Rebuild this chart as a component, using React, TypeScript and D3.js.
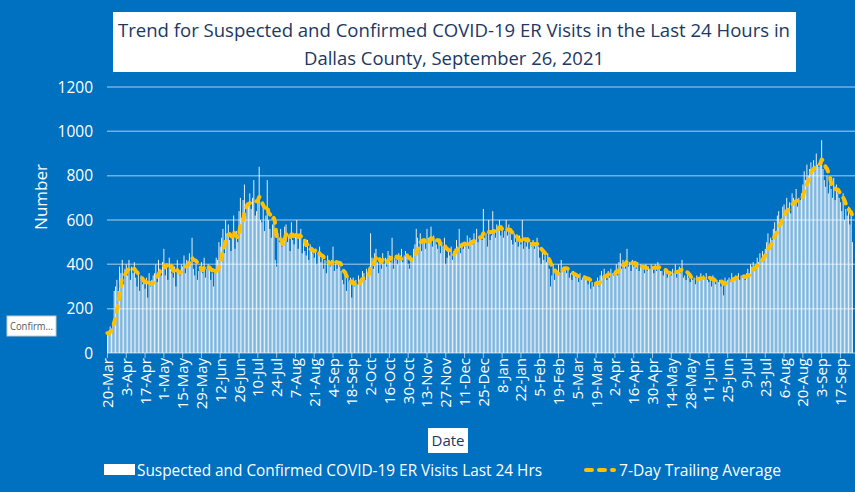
import * as d3 from "d3";

// daily ER visits, 20-Mar-2020 .. 26-Sep-2021 (one row = one week)
const visits: number[] = [
  90, 80, 120, 110, 140, 280, 300,
  330, 280, 390, 360, 420, 310, 380,
  400, 350, 420, 330, 390, 360, 410,
  340, 300, 370, 280, 350, 310, 330,
  290, 340, 250, 360, 300, 330, 350,
  360, 400, 320, 420, 380, 350, 410,
  470, 350, 400, 330, 430, 380, 360,
  340, 390, 300, 420, 370, 350, 400,
  390, 440, 360, 420, 400, 450, 410,
  520, 380, 350, 400, 330, 370, 390,
  410, 360, 430, 340, 380, 400, 390,
  330, 360, 300, 380, 430, 420, 500,
  480, 520, 560, 450, 600, 540, 580,
  510, 460, 530, 620, 470, 550, 500,
  640, 700, 610, 690, 760, 620, 650,
  680, 720, 650, 700, 780, 620, 640,
  700, 840, 600, 590, 680, 550, 620,
  780, 600, 560, 520, 580, 610, 420,
  390, 540, 500, 560, 480, 520, 570,
  580, 500, 530, 460, 590, 510, 490,
  540, 600, 470, 520, 560, 450, 500,
  460, 440, 510, 420, 490, 470, 450,
  430, 470, 400, 450, 480, 410, 440,
  380, 420, 360, 440, 400, 390, 420,
  480, 370, 410, 380, 400, 390, 370,
  330, 310, 360, 280, 350, 320, 340,
  250, 340, 300, 330, 310, 350, 320,
  340, 370, 360, 330, 380, 350, 390,
  540, 430, 380, 450, 470, 410, 360,
  420, 380, 450, 400, 430, 390, 460,
  440, 410, 520, 380, 430, 420, 400,
  450, 420, 470, 410, 440, 460, 430,
  400, 380, 440, 420, 470, 490, 560,
  520, 480, 540, 460, 510, 500, 470,
  560, 520, 500, 570, 480, 530, 510,
  490, 470, 510, 450, 500, 480, 520,
  400, 430, 470, 440, 480, 420, 460,
  470, 510, 480, 560, 450, 490, 470,
  500, 480, 530, 470, 520, 510, 490,
  540, 510, 560, 500, 530, 520, 510,
  650, 520, 540, 480, 600, 510, 530,
  640, 550, 520, 580, 560, 600, 530,
  570, 520, 550, 600, 530, 580, 540,
  510, 490, 540, 500, 520, 480, 530,
  490, 600, 470, 500, 480, 520, 470,
  500, 480, 510, 470, 490, 520, 480,
  430, 400, 460, 420, 440, 410, 450,
  380, 300, 350, 400, 330, 370, 360,
  400, 360, 420, 370, 390, 380, 360,
  380, 340, 360, 330, 370, 350, 340,
  350, 320, 360, 330, 340, 350, 330,
  330, 310, 340, 290, 320, 300, 310,
  320, 340, 300, 350, 370, 340, 380,
  350, 330, 370, 340, 380, 360, 350,
  370, 400, 350, 410, 450, 380, 420,
  400, 380, 470, 390, 410, 370, 420,
  390, 400, 380, 410, 370, 400, 390,
  380, 360, 400, 370, 390, 380, 400,
  390, 360, 400, 370, 410, 380, 370,
  370, 350, 380, 360, 340, 370, 360,
  350, 380, 360, 400, 340, 370, 390,
  360, 420, 340, 350, 330, 360, 340,
  320, 350, 330, 340, 310, 350, 330,
  340, 360, 330, 350, 340, 360, 330,
  320, 340, 300, 350, 320, 310, 330,
  320, 330, 300, 330, 260, 340, 320,
  330, 340, 320, 360, 330, 340, 350,
  340, 360, 330, 350, 340, 350, 330,
  360, 380, 350, 400, 390, 410, 380,
  400, 430, 410, 450, 420, 460, 440,
  470, 500, 540, 480, 520, 510, 560,
  590, 550, 620, 640, 580, 600, 660,
  670, 640, 700, 650, 680, 630, 720,
  700, 680, 740, 660, 700, 690, 720,
  760, 820, 780, 850, 800, 830, 860,
  820, 870, 830, 900, 850, 840, 860,
  960, 830, 780, 750, 800, 720, 760,
  740, 700, 790, 690, 760, 720, 700,
  680, 640, 720, 600, 650, 620, 660,
  580, 620, 500,
];

const tickLabels = [
  "20-Mar", "3-Apr", "17-Apr", "1-May", "15-May", "29-May", "12-Jun", "26-Jun",
  "10-Jul", "24-Jul", "7-Aug", "21-Aug", "4-Sep", "18-Sep", "2-Oct", "16-Oct",
  "30-Oct", "13-Nov", "27-Nov", "11-Dec", "25-Dec", "8-Jan", "22-Jan", "5-Feb",
  "19-Feb", "5-Mar", "19-Mar", "2-Apr", "16-Apr", "30-Apr", "14-May", "28-May",
  "11-Jun", "25-Jun", "9-Jul", "23-Jul", "6-Aug", "20-Aug", "3-Sep", "17-Sep",
];
const tickEvery = 14;
const yTicks = [0, 200, 400, 600, 800, 1000, 1200];

const W = 855;
const H = 492;
const plot = { left: 107, right: 853, top: 87, bottom: 353 };
const font = "'Open Sans', 'Noto Sans', sans-serif";
const bg = "#0070C0";
const gold = "#FFC000";

export default function App() {
  const idx = d3.range(visits.length);
  const x = d3.scaleBand<number>().domain(idx).range([plot.left, plot.right]).paddingInner(0.28);
  const y = d3.scaleLinear().domain([0, 1200]).range([plot.bottom, plot.top]);
  const cx = (i: number) => (x(i) as number) + x.bandwidth() / 2;

  // 7-day trailing average
  const avg = visits.map((_, i) => d3.mean(visits.slice(Math.max(0, i - 6), i + 1)) as number);
  const line = d3
    .line<number>()
    .x((_, i) => cx(i))
    .y((d) => y(d))
    .curve(d3.curveMonotoneX);

  return (
    <svg
      width={W}
      height={H}
      style={{ position: "absolute", left: 0, top: 0, display: "block" }}
      fontFamily={font}
    >
      <rect width={W} height={H} fill={bg} />

      {/* title */}
      <rect x={113} y={12} width={683} height={60} fill="#fff" />
      <text x={454} y={37} textAnchor="middle" fontSize={19} fill="#203864" textLength={672} lengthAdjust="spacingAndGlyphs">
        Trend for Suspected and Confirmed COVID-19 ER Visits in the Last 24 Hours in
      </text>
      <text x={454} y={65} textAnchor="middle" fontSize={19} fill="#203864" textLength={300} lengthAdjust="spacingAndGlyphs">
        Dallas County, September 26, 2021
      </text>

      {/* grid + y axis */}
      {yTicks.map((t) => (
        <g key={t}>
          {t > 0 && (
            <line x1={plot.left} x2={W} y1={y(t)} y2={y(t)} stroke="#fff" strokeOpacity={0.45} strokeWidth={1.5} />
          )}
          <text x={93} y={y(t) + 5.5} textAnchor="end" fontSize={15.5} fill="#fff">
            {t}
          </text>
        </g>
      ))}
      <text transform="translate(47,197) rotate(-90)" textAnchor="middle" fontSize={17} fill="#fff">
        Number
      </text>

      {/* bars */}
      <g fill="#fff" fillOpacity={0.92}>
        {visits.map((v, i) => (
          <rect key={i} x={x(i)} y={y(v)} width={x.bandwidth()} height={plot.bottom - y(v)} />
        ))}
      </g>

      {/* x axis */}
      <line x1={plot.left} x2={W} y1={plot.bottom} y2={plot.bottom} stroke="#fff" strokeOpacity={0.6} />
      {tickLabels.map((lab, k) => {
        const px = cx(k * tickEvery);
        return (
          <g key={lab + k}>
            <line x1={px} x2={px} y1={plot.bottom} y2={plot.bottom + 5} stroke="#fff" strokeOpacity={0.6} />
            <text
              transform={`translate(${px + 5.5},${plot.bottom + 5}) rotate(-90)`}
              textAnchor="end"
              fontSize={15}
              fill="#fff"
            >
              {lab}
            </text>
          </g>
        );
      })}

      {/* 7-day average */}
      <path
        d={line(avg) ?? ""}
        fill="none"
        stroke={gold}
        strokeWidth={4}
        strokeDasharray="6,7"
        strokeLinecap="round"
      />

      {/* axis title */}
      <rect x={428} y={428} width={40} height={25} fill="#fff" />
      <text x={448} y={446} textAnchor="middle" fontSize={15} fill="#203864">
        Date
      </text>

      {/* legend */}
      <rect x={104} y={464} width={31} height={11} fill="#fff" />
      <text x={137} y={476} fontSize={16} fill="#fff" textLength={405} lengthAdjust="spacingAndGlyphs">
        Suspected and Confirmed COVID-19 ER Visits Last 24 Hrs
      </text>
      <line x1={586} x2={614} y1={470} y2={470} stroke={gold} strokeWidth={4} strokeDasharray="6,7" strokeLinecap="round" />
      <text x={619} y={476} fontSize={16} fill="#fff" textLength={162} lengthAdjust="spacingAndGlyphs">
        7-Day Trailing Average
      </text>

      {/* leftover tooltip */}
      <rect x={7} y={316} width={49} height={20} fill="#fff" stroke="#c8c8c8" />
      <text x={10} y={330} fontSize={11} fill="#595959" textLength={43} lengthAdjust="spacingAndGlyphs">
        Confirm...
      </text>
    </svg>
  );
}
